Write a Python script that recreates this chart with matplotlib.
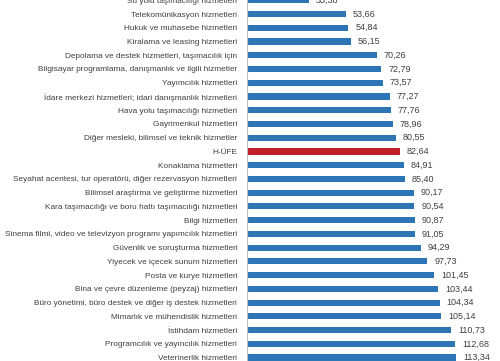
import matplotlib
matplotlib.use("Agg")
import matplotlib.pyplot as plt

categories = [
    "Su yolu taşımacılığı hizmetleri",
    "Telekomünikasyon hizmetleri",
    "Hukuk ve muhasebe hizmetleri",
    "Kiralama ve leasing hizmetleri",
    "Depolama ve destek hizmetleri, taşımacılık için",
    "Bilgisayar programlama, danışmanlık ve ilgili hizmetler",
    "Yayımcılık hizmetleri",
    "İdare merkezi hizmetleri; idari danışmanlık hizmetleri",
    "Hava yolu taşımacılığı hizmetleri",
    "Gayrimenkul hizmetleri",
    "Diğer mesleki, bilimsel ve teknik hizmetler",
    "H-ÜFE",
    "Konaklama hizmetleri",
    "Seyahat acentesi, tur operatörü, diğer rezervasyon hizmetleri",
    "Bilimsel araştırma ve geliştirme hizmetleri",
    "Kara taşımacılığı ve boru hattı taşımacılığı hizmetleri",
    "Bilgi hizmetleri",
    "Sinema filmi, video ve televizyon programı yapımcılık hizmetleri",
    "Güvenlik ve soruşturma hizmetleri",
    "Yiyecek ve içecek sunum hizmetleri",
    "Posta ve kurye hizmetleri",
    "Bina ve çevre düzenleme (peyzaj) hizmetleri",
    "Büro yönetimi, büro destek ve diğer iş destek hizmetleri",
    "Mimarlık ve mühendislik hizmetleri",
    "İstihdam hizmetleri",
    "Programcılık ve yayıncılık hizmetleri",
    "Veterinerlik hizmetleri",
]
values = [33.38, 53.66, 54.84, 56.15, 70.26, 72.79, 73.57, 77.27, 77.76, 78.96,
          80.55, 82.64, 84.91, 85.40, 90.17, 90.54, 90.87, 91.05, 94.29, 97.73,
          101.45, 103.44, 104.34, 105.14, 110.73, 112.68, 113.34]
highlight = "H-ÜFE"

plt.rcParams['font.family'] = ['Liberation Sans', 'DejaVu Sans']

fig = plt.figure(figsize=(5.0, 3.61), dpi=100)
ax = fig.add_axes([247 / 500, 0, 1 - 247 / 500, 1])

blue = "#2e75b6"
red = "#c0202a"
colors = [red if c == highlight else blue for c in categories]
pos = list(range(len(categories)))
ax.barh(pos, values, height=0.45, color=colors)

for p, v in zip(pos, values):
    ax.annotate(f"{v:.2f}".replace(".", ","), xy=(v, p), xytext=(5, 0),
                textcoords="offset points", va="center", ha="left",
                fontsize=6.5, color="#404040")

ax.set_yticks(pos)
ax.set_yticklabels(categories, fontsize=5.95, color="#404040")
ax.tick_params(axis="y", length=0, pad=7)
ax.set_ylim(26.25, -0.02)
ax.set_xlim(0, 137)
ax.set_xticks([])
for s in ["top", "right", "bottom"]:
    ax.spines[s].set_visible(False)
ax.spines["left"].set_color("#bfbfbf")
ax.spines["left"].set_linewidth(0.8)

fig.savefig("out.png", dpi=100, facecolor="white")
